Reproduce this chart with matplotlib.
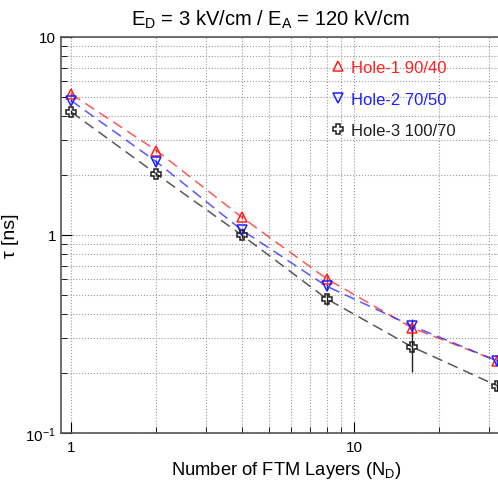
import matplotlib
matplotlib.use('Agg')
import matplotlib.pyplot as plt
from matplotlib.ticker import LogLocator, FixedLocator, NullFormatter

plt.rcParams['font.family'] = ['Liberation Sans', 'DejaVu Sans']
plt.rcParams['mathtext.fontset'] = 'custom'
plt.rcParams['mathtext.rm'] = 'Liberation Sans'
plt.rcParams['mathtext.it'] = 'Liberation Sans'

layers = [1, 2, 4, 8, 16, 32]
hole1 = [5.15, 2.67, 1.23, 0.60, 0.339, 0.231]
hole2 = [4.77, 2.34, 1.06, 0.55, 0.347, 0.231]
hole3 = [4.18, 2.03, 1.00, 0.475, 0.272, 0.173]
err1 = [0.10, 0.05, 0.03, 0.02, 0.03, 0.01]
err2 = [0.10, 0.05, 0.03, 0.02, 0.03, 0.01]
err3 = [0.10, 0.05, 0.03, 0.03, 0.07, 0.01]
labels = ['Hole-1 90/40', 'Hole-2 70/50', 'Hole-3 100/70']
colors = ['#ff2020', '#2020ff', '#202020']
markers = ['^', 'v', 'P']

fig = plt.figure(figsize=(4.98, 4.81), dpi=100)
ax = fig.add_axes([0.1225, 0.098, 0.8775, 0.823])

series = [hole1, hole2, hole3]
errs = [err1, err2, err3]
for vals, e, lab, c, m in zip(series, errs, labels, colors, markers):
    ax.plot(layers, vals, linestyle=(0, (7, 4)), color=c, alpha=0.75, lw=1.1, zorder=2)
    ax.errorbar(layers, vals, yerr=e, fmt='none', ecolor=c, elinewidth=1.0,
                capsize=0, zorder=3)
    ax.plot(layers, vals, linestyle='none', marker=m, mfc='none', mec=c, ms=7,
            mew=1.1, label=lab, zorder=4)

ax.set_xscale('log')
ax.set_yscale('log')
ax.set_xlim(0.92, 32.2)
ax.set_ylim(0.1, 10)

ax.grid(True, which='both', linestyle=':', color='#999999', lw=0.8)
ax.tick_params(which='both', direction='in', top=False, right=False, labelsize=11)
ax.tick_params(axis='x', pad=5)
ax.tick_params(which='major', length=8)
ax.tick_params(which='minor', length=4)
ax.xaxis.set_major_locator(FixedLocator([1, 10]))
ax.xaxis.set_major_formatter(plt.FuncFormatter(lambda v, p: '%d' % v))
ax.xaxis.set_minor_locator(LogLocator(base=10, subs=range(2, 10)))
ax.xaxis.set_minor_formatter(NullFormatter())
ax.yaxis.set_major_locator(FixedLocator([0.1, 1, 10]))
ax.yaxis.set_major_formatter(plt.FuncFormatter(
    lambda v, p: {0.1: '$10^{-1}$', 1: '1', 10: '10'}.get(round(v, 3), '')))
ax.yaxis.set_minor_locator(LogLocator(base=10, subs=range(2, 10)))
ax.yaxis.set_minor_formatter(NullFormatter())
ax.spines['right'].set_visible(False)
for s in ['left', 'bottom', 'top']:
    ax.spines[s].set_color('#555555')
    ax.spines[s].set_linewidth(1.2)

ax.set_title('E$_{D}$ = 3 kV/cm / E$_{A}$ = 120 kV/cm', fontsize=14.5, pad=9, x=0.48)
ax.set_xlabel('Number of FTM Layers (N$_{D}$)', fontsize=13.2)
ax.xaxis.set_label_coords(0.515, -0.066)
ax.set_ylabel('τ [ns]', fontsize=14)
ax.yaxis.set_label_coords(-0.095, 0.5)

leg = ax.legend(loc='upper right', bbox_to_anchor=(0.937, 0.98), frameon=False,
                fontsize=12, handletextpad=0.3, labelspacing=1.0, handlelength=1.0)
for t, c in zip(leg.get_texts(), colors):
    t.set_color(c)

fig.savefig('out.png', dpi=100)
